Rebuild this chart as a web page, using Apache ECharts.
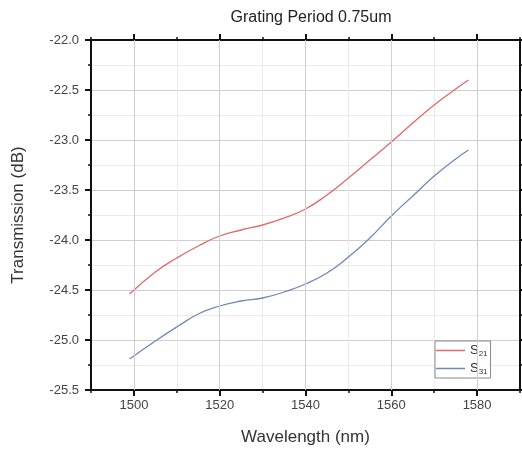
<!DOCTYPE html>
<html>
<head>
<meta charset="utf-8">
<script src="https://cdn.jsdelivr.net/npm/echarts@6/dist/echarts.min.js"></script>
<style>
  html, body { margin: 0; padding: 0; background: #fff; }
  #chart { width: 522px; height: 452px; }
</style>
</head>
<body>
<div id="chart"></div>
<script>
// 波长 (nm)
const wavelength = [1499, 1505, 1510, 1515, 1520, 1525, 1530, 1535, 1540, 1545, 1550, 1555, 1560, 1565, 1570, 1575, 1578];
// 透射 (dB)
const s21 = [-24.54, -24.32, -24.18, -24.06, -23.96, -23.9, -23.85, -23.78, -23.69, -23.55, -23.38, -23.2, -23.02, -22.83, -22.65, -22.49, -22.4];
const s31 = [-25.19, -25.01, -24.87, -24.74, -24.66, -24.61, -24.58, -24.52, -24.44, -24.33, -24.17, -23.98, -23.76, -23.56, -23.36, -23.19, -23.1];
const xMajorTicks = [1500, 1520, 1540, 1560, 1580];

const font = "Liberation Sans";
const black = "#111";

const pairs = arr => wavelength.map((w, i) => [w, arr[i]]);

const baseX = {
    type: "value",
    min: 1490,
    max: 1590,
    interval: 10,
    axisLine: { show: true, onZero: false, lineStyle: { color: black, width: 2 } },
    axisTick: { show: true, inside: false, length: 3, lineStyle: { color: black, width: 1.5 } },
    axisLabel: { show: false },
    splitLine: { show: false }
};

const majorX = (position) => ({
    type: "value",
    position,
    min: 1490,
    max: 1590,
    interval: 10,
    axisLine: { show: false, onZero: false },
    axisTick: { show: true, length: 6, customValues: xMajorTicks, lineStyle: { color: black, width: 2 } },
    axisLabel: position === "bottom"
        ? { show: true, customValues: xMajorTicks, margin: 9, fontFamily: font, fontSize: 13, color: "#444", formatter: v => String(v) }
        : { show: false },
    splitLine: { show: false }
});

const myChart = echarts.init(document.getElementById("chart"), null, { renderer: "canvas" });

const option = {
    backgroundColor: "#fff",
    animation: false,
    title: {
        text: "Grating Period 0.75um",
        left: 306,
        top: 5,
        textAlign: "center",
        textStyle: { fontFamily: font, fontSize: 16, fontWeight: "normal", color: "#222" }
    },
    grid: { left: 91, right: 2, top: 40, bottom: 62, containLabel: false },
    legend: {
        data: ["S21", "S31"],
        orient: "vertical",
        left: 435,
        top: 341,
        icon: "rect",
        itemWidth: 29,
        itemHeight: 1.5,
        itemGap: 4,
        padding: [3, 3, 2, 1],
        borderColor: "#888",
        borderWidth: 1,
        backgroundColor: "#fff",
        formatter: name => "S{sub|" + name.slice(1) + "}",
        textStyle: {
            fontFamily: font,
            fontSize: 13,
            color: "#333",
            rich: { sub: { fontFamily: font, fontSize: 8, color: "#333", padding: [7, 0, 0, 0] } }
        }
    },
    xAxis: [
        Object.assign({}, baseX, {
            position: "bottom",
            name: "Wavelength (nm)",
            nameLocation: "middle",
            nameGap: 39,
            nameTextStyle: { fontFamily: font, fontSize: 17, color: "#333" },
            splitLine: { show: true, lineStyle: { color: "#ebebeb", width: 1 } }
        }),
        majorX("bottom"),
        Object.assign({}, baseX, { position: "top" }),
        majorX("top")
    ],
    yAxis: [
        {
            type: "value",
            position: "left",
            min: -25.5,
            max: -22,
            interval: 0.5,
            name: "Transmission (dB)",
            nameLocation: "middle",
            nameGap: 64,
            nameTextStyle: { fontFamily: font, fontSize: 17, color: "#333" },
            axisLine: { show: true, onZero: false, lineStyle: { color: black, width: 2 } },
            axisTick: { show: true, length: 6, lineStyle: { color: black, width: 2 } },
            minorTick: { show: true, splitNumber: 2, length: 3, lineStyle: { color: black, width: 1.5 } },
            axisLabel: { margin: 12, fontFamily: font, fontSize: 13, color: "#444", formatter: v => v.toFixed(1) },
            splitLine: { show: true, lineStyle: { color: "#cfcfcf", width: 1 } },
            minorSplitLine: { show: true, lineStyle: { color: "#ebebeb", width: 1 } }
        },
        {
            type: "value",
            position: "right",
            min: -25.5,
            max: -22,
            interval: 0.5,
            axisLine: { show: true, onZero: false, lineStyle: { color: black, width: 2 } },
            axisTick: { show: true, length: 6, lineStyle: { color: black, width: 2 } },
            minorTick: { show: true, splitNumber: 2, length: 3, lineStyle: { color: black, width: 1.5 } },
            axisLabel: { show: false },
            splitLine: { show: false }
        }
    ],
    series: [
        {
            name: "S21",
            type: "line",
            data: pairs(s21),
            smooth: true,
            showSymbol: false,
            color: "#e06a6a",
            lineStyle: { color: "#e06a6a", width: 1.3 }
        },
        {
            name: "S31",
            type: "line",
            data: pairs(s31),
            smooth: true,
            showSymbol: false,
            color: "#7088b8",
            lineStyle: { color: "#7088b8", width: 1.3 },
            // 主刻度处的竖向网格线
            markLine: {
                silent: true,
                symbol: "none",
                label: { show: false },
                lineStyle: { color: "#cfcfcf", width: 1, type: "solid" },
                data: xMajorTicks.map(v => ({ xAxis: v }))
            }
        }
    ]
};

myChart.setOption(option);
</script>
</body>
</html>
